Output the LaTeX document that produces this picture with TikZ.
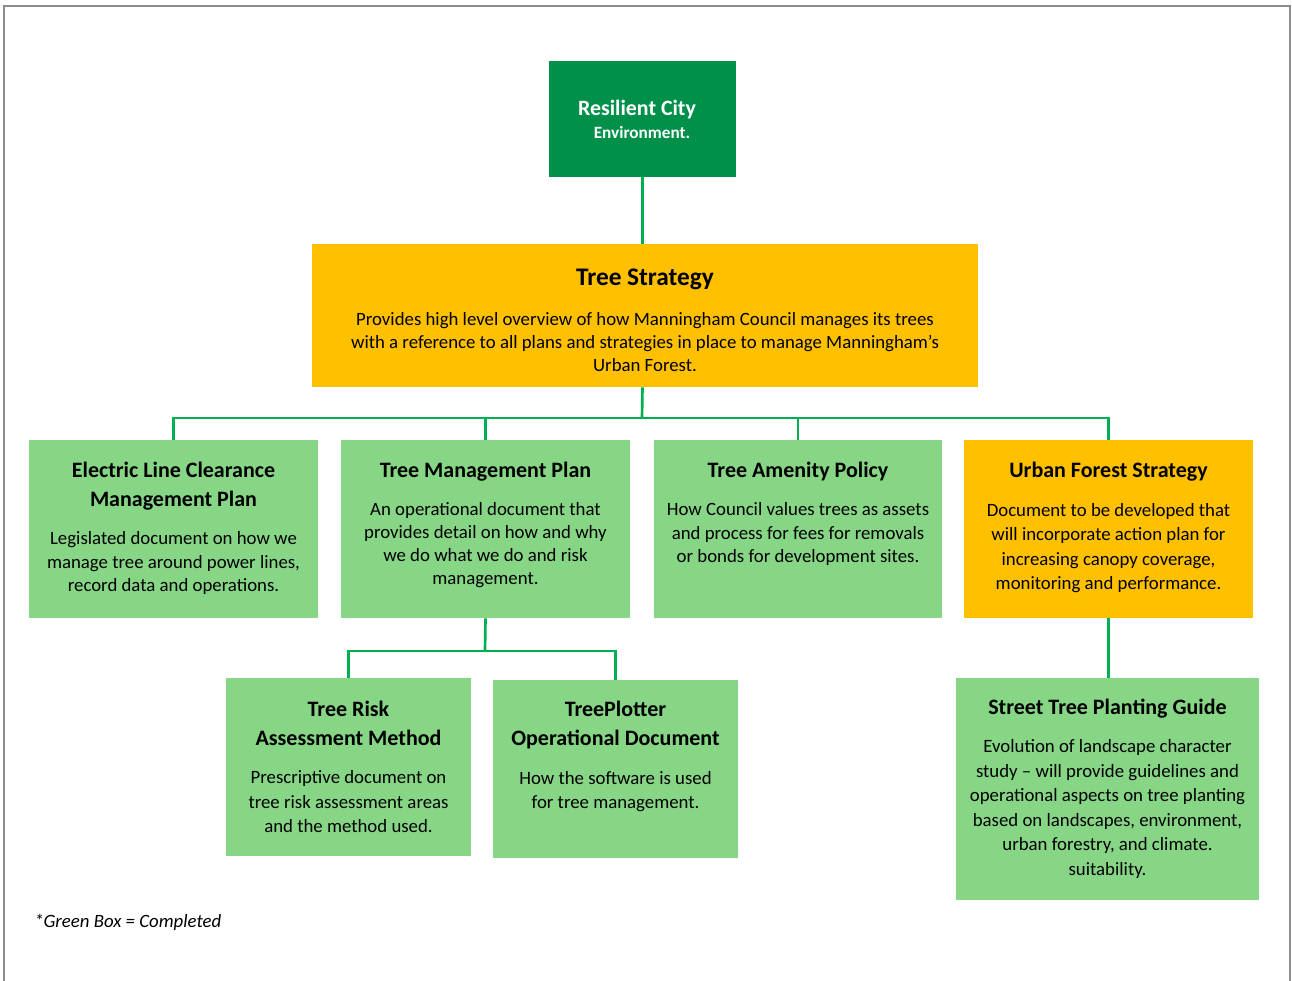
\documentclass[tikz,border=0pt]{standalone}
\usepackage{fontspec}
\setmainfont{Carlito}
\definecolor{darkgreen}{HTML}{00904A}
\definecolor{amber}{HTML}{FFC000}
\definecolor{lightgreen}{HTML}{86D686}
\definecolor{linkgreen}{HTML}{00B050}
\definecolor{framegray}{HTML}{8C8C8C}
\begin{document}
\begin{tikzpicture}[x=0.75pt,y=-0.75pt,
  box/.style={rectangle,inner sep=0pt,draw=none},
  done/.style={box,fill=lightgreen},
  pending/.style={box,fill=amber},
  head/.style={align=center,inner sep=0pt,font=\bfseries\fontsize{16.5}{21.75}\selectfont},
  body/.style={align=center,inner sep=0pt,font=\fontsize{14.1}{17.3}\selectfont},
  bodywide/.style={body,font=\fontsize{14.1}{18.4}\selectfont},
  link/.style={draw=linkgreen,line width=2pt}]
\useasboundingbox (0,0) rectangle (1292,981);
% page frame
\draw[framegray,line width=1.6pt] (4,985) -- (4,6) -- (1290,6) -- (1290,985);

% top level
\node[box,fill=darkgreen,minimum width=187*0.75pt,minimum height=116*0.75pt] (rc) at (642.5,119) {};
\node[inner sep=0pt,text=white,font=\bfseries\fontsize{16.4}{18}\selectfont] (rc-t) at (637,110) {Resilient City};
\node[inner sep=0pt,text=white,font=\bfseries\fontsize{12.9}{14}\selectfont] (rc-s) at (642,133) {Environment.};

% strategy
\node[pending,minimum width=666*0.75pt,minimum height=143*0.75pt] (ts) at (645,315.5) {};
\node[head,font=\bfseries\fontsize{19}{22}\selectfont] (ts-t) at (645,279) {Tree Strategy};
\node[body] (ts-b) at (645,342) {Provides high level overview of how Manningham Council manages its trees\\with a reference to all plans and strategies in place to manage Manningham’s\\Urban Forest.};

% second row
\node[done,minimum width=289*0.75pt,minimum height=178*0.75pt] (elc) at (173.5,529) {};
\node[head] (elc-t) at (173.5,486.5) {Electric Line Clearance\\Management Plan};
\node[body] (elc-b) at (173.5,563) {Legislated document on how we\\manage tree around power lines,\\record data and operations.};

\node[done,minimum width=289*0.75pt,minimum height=178*0.75pt] (tmp) at (485.5,529) {};
\node[head] (tmp-t) at (485.5,472) {Tree Management Plan};
\node[body] (tmp-b) at (485.5,545) {An operational document that\\provides detail on how and why\\we do what we do and risk\\management.};

\node[done,minimum width=288*0.75pt,minimum height=178*0.75pt] (tap) at (798,529) {};
\node[head] (tap-t) at (798,472) {Tree Amenity Policy};
\node[body] (tap-b) at (798,534) {How Council values trees as assets\\and process for fees for removals\\or bonds for development sites.};

\node[pending,minimum width=289*0.75pt,minimum height=178*0.75pt] (ufs) at (1108.5,529) {};
\node[head] (ufs-t) at (1108.5,472) {Urban Forest Strategy};
\node[bodywide] (ufs-b) at (1108.5,548) {Document to be developed that\\will incorporate action plan for\\increasing canopy coverage,\\monitoring and performance.};

% third row
\node[done,minimum width=245*0.75pt,minimum height=178*0.75pt] (tra) at (348.5,767) {};
\node[head] (tra-t) at (348.5,723.5) {Tree Risk\\Assessment Method};
\node[bodywide] (tra-b) at (348.5,802) {Prescriptive document on\\tree risk assessment areas\\and the method used.};

\node[done,minimum width=245*0.75pt,minimum height=178*0.75pt] (tpo) at (615.5,769) {};
\node[head] (tpo-t) at (615.5,725) {TreePlotter\\Operational Document};
\node[bodywide] (tpo-b) at (615.5,791.5) {How the software is used\\for tree management.};

\node[done,minimum width=303*0.75pt,minimum height=222*0.75pt] (stp) at (1107.5,789) {};
\node[head] (stp-t) at (1107.5,709) {Street Tree Planting Guide};
\node[bodywide] (stp-b) at (1107.5,809) {Evolution of landscape character\\study – will provide guidelines and\\operational aspects on tree planting\\based on landscapes, environment,\\urban forestry, and climate.\\suitability.};

% connectors
\coordinate (bus) at (642,418);
\coordinate (subbus) at (485,651);
\draw[link] (rc.south) -- (rc.south |- ts.north);
\draw[link] (rc.south |- ts.south) -- (bus);
\draw[link] (bus) -| (elc.north);
\draw[link] (bus) -| (tmp.north);
\draw[link] (bus) -| (tap.north);
\draw[link] (bus) -| (ufs.north);
\draw[link] (tmp.south) -- (subbus);
\draw[link] (subbus) -| (tra.north);
\draw[link] (subbus) -| (tpo.north);
\draw[link] (ufs.south) -- (ufs.south |- stp.north);

% legend
\node[anchor=west,inner sep=0pt,font=\itshape\fontsize{14.1}{16}\selectfont] (legend) at (34,922) {*Green Box = Completed};
\end{tikzpicture}
\end{document}
